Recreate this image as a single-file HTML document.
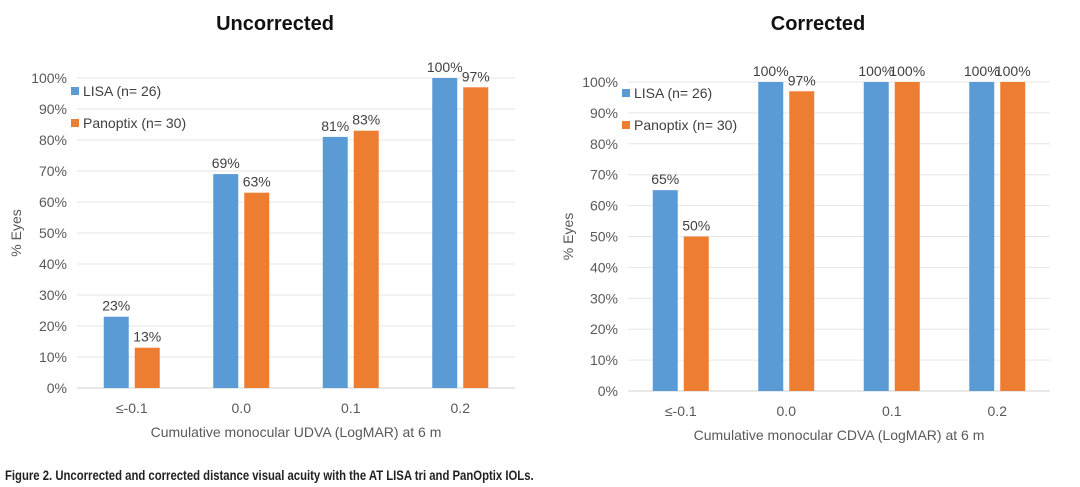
<!DOCTYPE html>
<html><head><meta charset="utf-8"><style>
body{margin:0;background:#fff;width:1080px;height:487px;overflow:hidden}
svg{display:block}
text{font-family:"Liberation Sans",sans-serif}
</style></head><body>
<svg id="s" width="1080" height="487"></svg>
<script>
const categories=["≤-0.1","0.0","0.1","0.2"];
const uncLisa=[23,69,81,100];
const uncPano=[13,63,83,97];
const corLisa=[65,100,100,100];
const corPano=[50,97,100,100];
const yTicks=[0,10,20,30,40,50,60,70,80,90,100];
const NS="http://www.w3.org/2000/svg";
const svg=document.getElementById('s');
function mk(tag,attrs,parent,txt){const e=document.createElementNS(NS,tag);for(const k in attrs)e.setAttribute(k,attrs[k]);if(txt!==undefined)e.textContent=txt;(parent||svg).appendChild(e);return e;}
function chart(o){
  const g=mk('g',{});
  
  
  const y=v=>o.y0-(o.y0-o.y100)*v/100;
  const cw=(o.x1-o.x0)/categories.length;
  const cx=i=>o.x0+cw*(i+0.5);
  const t=mk('text',{x:o.tx,y:30,'text-anchor':'middle','font-size':20,'font-weight':'bold',fill:'#111'},g,o.title);
  
  
  yTicks.forEach(v=>{
    const l=mk('line',{x1:o.x0,x2:o.x1,y1:y(v),y2:y(v),stroke:v===0?'#d0d0d0':'#e6e6e6','stroke-width':1},g);
    
    
    const tl=mk('text',{x:o.x0-10,y:y(v)+5,'text-anchor':'end','font-size':14,fill:'#595959'},g,v+'%');
    
    
  });
  categories.forEach((c,i)=>{
    const cl=mk('text',{x:cx(i),y:o.y0+25,'text-anchor':'middle','font-size':14,fill:'#595959'},g,c);
    
    
    [[o.a,'#5B9BD5',-1],[o.b,'#ED7D31',1]].forEach(([arr,col,s])=>{
      const bx=cx(i)+s*15.5-12.5;
      const r=mk('rect',{x:bx,y:y(arr[i]),width:25,height:y(0)-y(arr[i]),fill:col},g);
      
      
      const vl=mk('text',{x:bx+12.5,y:y(arr[i])-6,'text-anchor':'middle','font-size':14,fill:'#404040'},g,arr[i]+'%');
      
      
    });
  });
  const xt=mk('text',{x:(o.x0+o.x1)/2,y:o.y0+49,'text-anchor':'middle','font-size':14,fill:'#595959'},g,o.xtitle);
  
  
  const yt=mk('text',{x:0,y:0,'text-anchor':'middle','font-size':14,fill:'#595959',transform:`translate(${o.yx},${(o.y0+o.y100)/2}) rotate(-90)`},g,'% Eyes');
  
  
  [['LISA (n= 26)','#5B9BD5',o.ly],['Panoptix (n= 30)','#ED7D31',o.ly+32]].forEach(([lab,col,ly])=>{
    const lg=mk('g',{},g);
    
    
    mk('rect',{x:o.lx,y:ly-4,width:8,height:8,fill:col},lg);
    mk('text',{x:o.lx+12,y:ly+5,'font-size':14,fill:'#404040'},lg,lab);
  });
}
chart({name:'uncorrected-chart',title:'Uncorrected',tx:275,x0:77,x1:515,y0:388,y100:78,a:uncLisa,b:uncPano,xtitle:'Cumulative monocular UDVA (LogMAR) at 6 m',yx:21,lx:71,ly:91});
chart({name:'corrected-chart',title:'Corrected',tx:818,x0:628,x1:1050,y0:391,y100:82,a:corLisa,b:corPano,xtitle:'Cumulative monocular CDVA (LogMAR) at 6 m',yx:573,lx:622,ly:93});
const cap=mk('text',{x:5,y:480,'font-size':14,fill:'#222','font-weight':'bold',transform:'translate(5,0) scale(0.81,1) translate(-5,0)'},svg,'Figure 2. Uncorrected and corrected distance visual acuity with the AT LISA tri and PanOptix IOLs.');


</script>
</body></html>
